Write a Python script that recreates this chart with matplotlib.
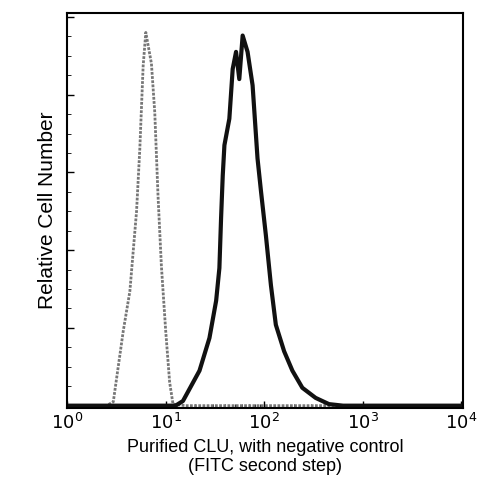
import matplotlib
matplotlib.use("Agg")
import matplotlib.pyplot as plt
import numpy as np

plt.rcParams['font.family'] = ['Liberation Sans', 'DejaVu Sans']

neg_log = [0.0, 0.40, 0.468, 0.569, 0.636, 0.704, 0.737, 0.771, 0.798, 0.855, 0.889, 0.922, 0.956, 1.0, 1.04, 1.074, 1.2, 4.0]
neg_y   = [0.0, 0.0, 0.05, 0.96, 1.47, 2.5, 3.3, 4.37, 4.8, 4.4, 3.77, 2.7, 1.8, 0.96, 0.3, 0.02, 0.0, 0.0]
clu_log = [0.0, 1.10, 1.175, 1.343, 1.444, 1.512, 1.545, 1.562, 1.579, 1.596, 1.646, 1.68, 1.714, 1.747, 1.781, 1.831, 1.882, 1.932, 1.967, 2.017, 2.068, 2.118, 2.202, 2.286, 2.387, 2.522, 2.657, 2.8, 4.0]
clu_y   = [0.0, 0.0, 0.06, 0.45, 0.87, 1.35, 1.77, 2.41, 2.96, 3.35, 3.69, 4.33, 4.55, 4.2, 4.76, 4.55, 4.12, 3.18, 2.76, 2.19, 1.55, 1.04, 0.7, 0.45, 0.23, 0.1, 0.02, 0.0, 0.0]

fig = plt.figure(figsize=(4.8, 5), dpi=100)
ax = fig.add_axes([0.14, 0.184, 0.825, 0.79])
ax.plot(10**np.array(neg_log), neg_y, color="#777777", lw=2.0, ls=(0, (1, 0.5)))
ax.plot(10**np.array(clu_log), clu_y, color="#111111", lw=3.0)
ax.set_xscale("log")
ax.set_xlim(1, 10**4.02)
ax.set_ylim(-0.03, 5.05)
ax.set_yticks([0, 1, 2, 3, 4, 5])
ax.set_yticks(np.arange(0, 5, 0.25), minor=True)
ax.set_yticklabels([])
ax.set_xticks([1, 10, 100, 1000, 10000])
ax.set_xticklabels([r"$10^0$", r"$10^1$", r"$10^2$", r"$10^3$", r"$10^4$"], fontsize=13)
ax.tick_params(direction="in", length=5, width=1)
ax.tick_params(which="minor", direction="in", length=3)
for s in ax.spines.values():
    s.set_linewidth(1.5)
ax.set_xlabel("Purified CLU, with negative control\n(FITC second step)", fontsize=13)
ax.set_ylabel("Relative Cell Number", fontsize=15)
fig.savefig("out.png", dpi=100)
